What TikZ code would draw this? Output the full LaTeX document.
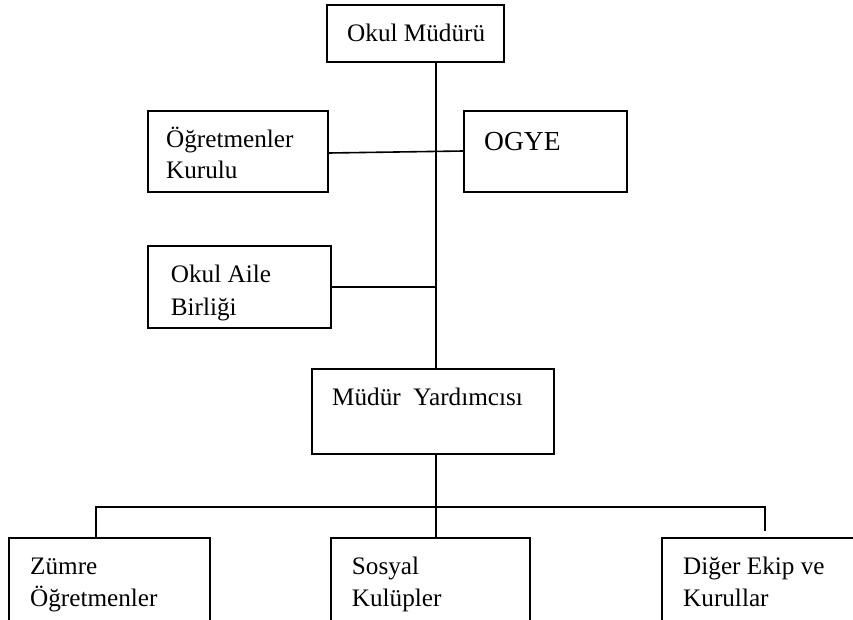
\documentclass[tikz,border=0pt]{standalone}
\usepackage{fontspec}
\setmainfont{Liberation Serif}
\begin{document}
\begin{tikzpicture}[x=1pt,y=-1pt,
  box/.style={draw=black,line width=1.6pt,rectangle,inner sep=0pt,minimum width=#1},
  conn/.style={draw=black,line width=1.6pt},
  txt/.style={anchor=base west,inner sep=0pt,font=\fontsize{25.2}{30}\selectfont}]
\useasboundingbox (0,0) rectangle (853,619);
\clip (0,0) rectangle (853,619);
% boxes
\node[box=177pt,minimum height=57pt] (top) at (415.5,33.5) {};
\node[box=180pt,minimum height=81pt] (ok) at (238,151.5) {};
\node[box=163pt,minimum height=81pt] (ogye) at (545.5,151.5) {};
\node[box=183pt,minimum height=82pt] (oab) at (239.5,287) {};
\node[box=242pt,minimum height=85pt] (my) at (433,411.5) {};
\node[box=201pt,minimum height=110pt] (z) at (109.5,593) {};
\node[box=199pt,minimum height=110pt] (s) at (430.5,593) {};
\node[box=230pt,minimum height=110pt] (d) at (777,593) {};
% texts
\node[txt] (t1) at (347,41.7) {Okul Müdürü};
\node[txt] (t2a) at (166,147.7) {Öğretmenler};
\node[txt] (t2b) at (166,178) {Kurulu};
\node[txt,font=\fontsize{27.5}{32}\selectfont] (t3) at (484,150) {OGYE};
\node[txt] (t4a) at (170.7,282.3) {Okul Aile};
\node[txt] (t4b) at (170.7,315) {Birliği};
\node[txt] (t5) at (332,405) {Müdür\ \ Yardımcısı};
\node[txt] (t6a) at (30,574) {Zümre};
\node[txt] (t6b) at (30,606.7) {Öğretmenler};
\node[txt] (t7a) at (351.7,574) {Sosyal};
\node[txt] (t7b) at (351.7,606.7) {Kulüpler};
\node[txt] (t8a) at (683,574) {Diğer Ekip ve};
\node[txt] (t8b) at (683,606.7) {Kurullar};
% connectors
\coordinate (trunk) at (436,0);
\coordinate (bar) at (0,507);
\coordinate (rstub) at (765,531);
\draw[conn] (top.south -| trunk) -- (my.north -| trunk);
\draw[conn] ([yshift=-1.5pt]ok.east) -- ([yshift=0.5pt]ogye.west);
\draw[conn] (oab.east) -- (oab.east -| trunk);
\draw[conn] (my.south -| trunk) -- (s.north -| trunk);
\draw[conn] (z.north -| 95.7,0) -- (bar -| 95.7,0) -- (bar -| rstub) -- (rstub);
\end{tikzpicture}
\end{document}
